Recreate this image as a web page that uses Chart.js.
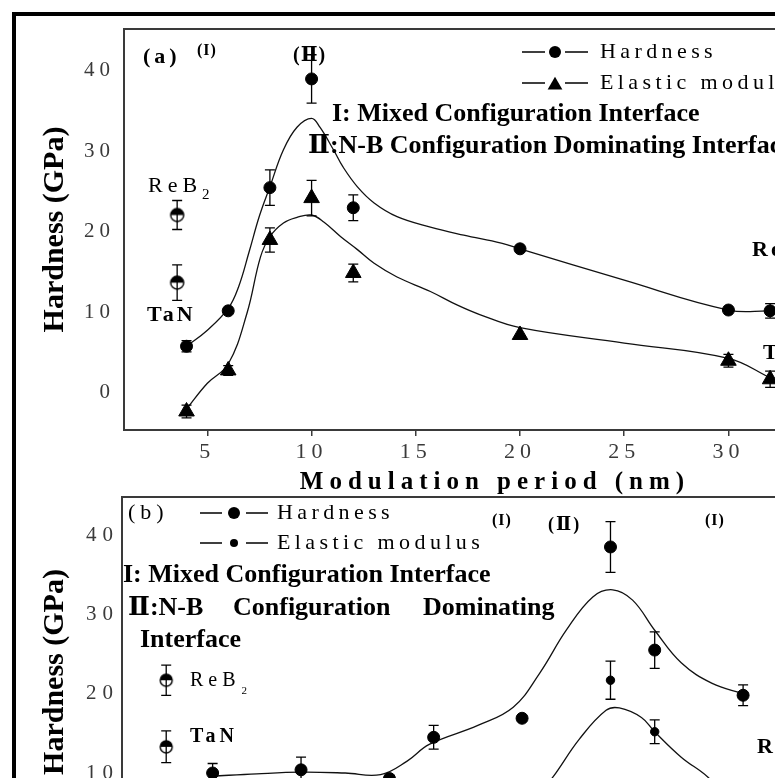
<!DOCTYPE html>
<html>
<head>
<meta charset="utf-8">
<script src="https://cdn.jsdelivr.net/npm/chart.js@4/dist/chart.umd.min.js"></script>
<style>
  html, body { margin: 0; padding: 0; background: #fff; overflow: hidden; }
  #sheet { position: relative; width: 775px; height: 778px; overflow: hidden; background: #fff; }
  #frame { position: absolute; left: 12px; top: 12px; width: 1000px; height: 1000px;
           border: 4px solid #000; box-sizing: border-box; }
  #panelA { position: absolute; left: 0; top: 0; }
  #panelB { position: absolute; left: 0; top: 480px; }
</style>
</head>
<body>
<div id="sheet">
  <div id="frame"></div>
  <canvas id="panelA" width="900" height="510"></canvas>
  <canvas id="panelB" width="900" height="420"></canvas>
</div>
<script>
// ---------- Panel (a): hardness and elastic modulus vs. modulation period ----------
const periodA      = [4, 6, 8, 10, 12, 20, 30, 32];
const hardnessA    = [5.8, 10.2, 25.5, 39.0, 23.0, 17.9, 10.3, 10.2];
const hardnessErrA = [0.7, 0, 2.2, 3.0, 1.6, 0, 0, 0.9];
const modulusA     = [-2.3, 2.8, 19.0, 24.2, 14.9, 7.2, 4.0, 1.7];
const modulusErrA  = [0.8, 0.6, 1.5, 2.2, 1.1, 0, 0.8, 1.0];

const fitHardPeriodA = [4, 5, 6, 6.5, 7, 7.5, 8, 8.65, 9.3, 10, 10.4, 11.05, 11.5, 12.2, 13, 14.1, 15.7, 17.3, 19.1, 20, 25, 30, 32];
const fitHardA       = [5.8, 7.8, 10.5, 13.2, 17.5, 22.0, 25.6, 30.2, 33.0, 34.1, 33.0, 30.2, 28.1, 25.6, 23.6, 21.9, 20.6, 19.6, 18.6, 17.9, 14.0, 10.3, 10.2];
const fitModPeriodA  = [4, 5, 6, 6.9, 7.55, 8, 8.65, 9.3, 10, 10.6, 11.4, 12.2, 13, 14.1, 15.7, 17, 18.1, 20, 25, 30, 32];
const fitModA        = [-2.0, 1.2, 3.6, 9.9, 16.9, 19.4, 21.1, 21.8, 22.1, 21.2, 19.4, 17.8, 16.1, 14.4, 12.6, 10.9, 9.7, 8.1, 6.2, 4.3, 1.9];

// single-layer references (ReB2, TaN)
const refPeriodA = [3.55, 3.55];
const refA       = [22.1, 13.7];
const refErrA    = [1.8, 2.2];

const xTicksA = [5, 10, 15, 20, 25, 30, 35];
const yTicksA = [0, 10, 20, 30, 40];

// ---------- Panel (b) ----------
const seriesB      = [2, 4, 6, 7, 9, 11, 12, 14];
const hardnessB    = [10.0, 10.4, 9.3, 14.5, 16.9, 38.5, 25.5, 19.8];
const hardnessErrB = [1.2, 1.6, 0, 1.5, 0, 3.2, 2.3, 1.3];
const modulusSeriesB = [11, 12];
const modulusB       = [21.7, 15.2];
const modulusErrB    = [2.4, 1.5];

const fitHardSeriesB = [2, 3, 4, 5, 5.8, 6.4, 6.9, 8, 8.8, 9.4, 10, 10.6, 11.05, 11.5, 12, 12.6, 13.3, 14];
const fitHardB       = [9.6, 9.9, 10.1, 10.0, 9.8, 11.5, 13.6, 16.0, 18.3, 22.6, 28.0, 32.2, 33.1, 31.8, 28.0, 23.9, 21.3, 20.0];
const fitModSeriesB  = [9.2, 9.7, 10.3, 10.9, 11.2, 11.7, 12.0, 12.6, 13.2, 13.7];
const fitModB        = [6.0, 9.5, 14.3, 17.9, 18.2, 17.0, 15.2, 12.0, 9.5, 6.5];

const refSeriesB = [0.95, 0.95];
const refB       = [21.7, 13.3];
const refErrB    = [1.9, 2.0];

const yTicksB = [10, 20, 30, 40];

// ---------- shared styling ----------
const SERIF = '"Liberation Serif", "Times New Roman", "DejaVu Serif", serif';
const INK = '#000';
const AXIS = '#3a3a3a';
const TICK = '#3a3a3a';

const pairs = (xs, ys) => xs.map((x, i) => ({ x, y: ys[i] }));

// circle with the upper half filled, used for the single-layer references
function halfDot(r) {
  const size = Math.ceil(2 * r + 4);
  const c = document.createElement('canvas');
  c.width = c.height = size;
  const g = c.getContext('2d');
  const m = size / 2;
  g.fillStyle = '#fff';
  g.beginPath(); g.arc(m, m, r, 0, Math.PI * 2); g.fill();
  g.fillStyle = INK;
  g.beginPath(); g.arc(m, m, r, Math.PI, Math.PI * 2); g.closePath(); g.fill();
  g.strokeStyle = INK; g.lineWidth = 1.4;
  g.beginPath(); g.arc(m, m, r, 0, Math.PI * 2); g.stroke();
  return c;
}

function drawText(ctx, t) {
  ctx.save();
  const weight = t.bold ? 'bold ' : '';
  ctx.font = weight + t.size + 'px ' + SERIF;
  ctx.letterSpacing = (t.spacing || 0) + 'px';
  ctx.fillStyle = INK;
  ctx.textBaseline = 'middle';
  ctx.textAlign = 'left';
  ctx.fillText(t.text, t.x, t.y);
  if (t.sub) {
    const w = ctx.measureText(t.text).width;
    ctx.font = weight + t.subSize + 'px ' + SERIF;
    ctx.fillText(t.sub, t.x + w + (t.subGap || 0), t.y + t.subDrop);
  }
  ctx.restore();
}

function drawMarker(ctx, style, r, x, y) {
  ctx.beginPath();
  if (style === 'triangle') {
    for (let k = 0; k < 3; k++) {
      const a = k * 2 * Math.PI / 3;
      const px = x + Math.sin(a) * r, py = y - Math.cos(a) * r;
      k ? ctx.lineTo(px, py) : ctx.moveTo(px, py);
    }
    ctx.closePath();
  } else {
    ctx.arc(x, y, r, 0, Math.PI * 2);
  }
  ctx.fill();
}

function drawKey(ctx, k) {
  ctx.save();
  ctx.strokeStyle = INK; ctx.fillStyle = INK; ctx.lineWidth = 1.5;
  ctx.beginPath();
  ctx.moveTo(k.dash[0], k.y); ctx.lineTo(k.dash[1], k.y);
  ctx.moveTo(k.dash[2], k.y); ctx.lineTo(k.dash[3], k.y);
  ctx.stroke();
  drawMarker(ctx, k.style, k.r, k.mx, k.y + (k.style === 'triangle' ? k.r / 4 : 0));
  ctx.restore();
  drawText(ctx, { text: k.label, x: k.tx, y: k.y, size: k.size, spacing: k.spacing });
}

const notesPlugin = (items, keys) => ({
  id: 'notes',
  afterDraw(chart) {
    const ctx = chart.ctx;
    keys.forEach(k => drawKey(ctx, k));
    items.forEach(t => drawText(ctx, t));
  }
});

// vertical error bars with caps, taken from each dataset's "errors" list
const errorBars = {
  id: 'errorBars',
  afterDatasetsDraw(chart) {
    const { ctx, chartArea: a } = chart;
    const ys = chart.scales.y;
    ctx.save();
    ctx.beginPath(); ctx.rect(a.left, a.top, a.right - a.left, a.bottom - a.top); ctx.clip();
    ctx.strokeStyle = INK; ctx.lineWidth = 1.3;
    chart.data.datasets.forEach((ds, i) => {
      if (!ds.errors) return;
      const meta = chart.getDatasetMeta(i);
      meta.data.forEach((pt, j) => {
        const e = ds.errors[j];
        if (!e) return;
        const v = ds.data[j].y;
        const y1 = ys.getPixelForValue(v + e), y2 = ys.getPixelForValue(v - e);
        const x = pt.x, c = ds.capHalf || 5;
        ctx.beginPath();
        ctx.moveTo(x, y1); ctx.lineTo(x, y2);
        ctx.moveTo(x - c, y1); ctx.lineTo(x + c, y1);
        ctx.moveTo(x - c, y2); ctx.lineTo(x + c, y2);
        ctx.stroke();
      });
    });
    ctx.restore();
  }
};

// top edge of the plotting frame
const frameTop = {
  id: 'frameTop',
  afterDraw(chart) {
    const { ctx, chartArea: a } = chart;
    ctx.save();
    ctx.strokeStyle = AXIS; ctx.lineWidth = 2;
    ctx.beginPath(); ctx.moveTo(a.left - 1, a.top); ctx.lineTo(a.right, a.top); ctx.stroke();
    ctx.restore();
  }
};

// letter-spaced tick labels / titles per axis
const spacingPlugin = spec => ({
  id: 'axisSpacing',
  afterLayout(chart) {
    Object.keys(spec).forEach(id => {
      const scale = chart.scales[id];
      if (!scale || scale.$spaced) return;
      scale.$spaced = true;
      [['drawLabels', spec[id].labels], ['drawTitle', spec[id].title]].forEach(([fn, px]) => {
        if (!px) return;
        const orig = scale[fn];
        scale[fn] = function (...args) {
          const c = this.ctx, prev = c.letterSpacing;
          c.letterSpacing = px + 'px';
          try { orig.apply(this, args); } finally { c.letterSpacing = prev; }
        };
      });
    });
  }
});

const lineSet = (label, data) => ({
  label, data, showLine: true, pointRadius: 0, borderColor: '#111', borderWidth: 1.3,
  tension: 0.4, fill: false
});
const markSet = (label, data, errors, style, r) => ({
  label, data, errors, showLine: false, pointStyle: style, pointRadius: r,
  backgroundColor: INK, borderColor: INK, borderWidth: 1
});

const baseOptions = {
  responsive: false, animation: false, devicePixelRatio: 1, events: [],
  plugins: { legend: { display: false }, tooltip: { enabled: false } }
};

// ---------- chart (a) ----------
const notesA = [
  { text: '(a)', x: 143, y: 57, size: 22, bold: true, spacing: 4 },
  { text: '(I)', x: 197, y: 51, size: 16, bold: true, spacing: 1 },
  { text: '(Ⅱ)', x: 293, y: 56, size: 20, bold: true, spacing: 1 },
  { text: 'I: Mixed Configuration Interface', x: 332, y: 114, size: 26, bold: true },
  { text: 'Ⅱ:N-B Configuration Dominating Interface', x: 308, y: 146, size: 26, bold: true },
  { text: 'ReB', sub: '2', subSize: 15, subDrop: 9, subGap: 0, x: 148, y: 186, size: 22, spacing: 5 },
  { text: 'TaN', x: 147, y: 315, size: 22, bold: true, spacing: 3 },
  { text: 'ReB', sub: '2', subSize: 15, subDrop: 9, x: 752, y: 250, size: 22, bold: true, spacing: 3 },
  { text: 'TaN', x: 763, y: 353, size: 22, bold: true, spacing: 3 }
];
const keysA = [
  { label: 'Hardness', y: 52, dash: [522, 545, 565, 588], mx: 555, style: 'circle', r: 6, tx: 600, size: 22, spacing: 4.4 },
  { label: 'Elastic modulus', y: 83, dash: [522, 545, 565, 588], mx: 555, style: 'triangle', r: 8.5, tx: 600, size: 22, spacing: 4.4 }
];

new Chart(document.getElementById('panelA'), {
  type: 'scatter',
  data: {
    datasets: [
      markSet('Hardness', pairs(periodA, hardnessA), hardnessErrA, 'circle', 6),
      markSet('Elastic modulus', pairs(periodA, modulusA), modulusErrA, 'triangle', 9),
      markSet('ReB2 / TaN', pairs(refPeriodA, refA), refErrA, halfDot(6.5), 6.5),
      lineSet('Hardness fit', pairs(fitHardPeriodA, fitHardA)),
      lineSet('Elastic modulus fit', pairs(fitModPeriodA, fitModA))
    ]
  },
  options: {
    ...baseOptions,
    layout: { padding: { top: 29, left: 0, right: 34, bottom: 0 } },
    scales: {
      x: {
        type: 'linear', min: 1, max: 36.6,
        afterBuildTicks: s => { s.ticks = xTicksA.map(v => ({ value: v })); },
        afterFit: s => { s.height = 80; },
        grid: { display: true, drawOnChartArea: false, drawTicks: true, tickLength: 6, color: AXIS, lineWidth: 1.5 },
        border: { display: true, color: AXIS, width: 2 },
        ticks: { color: TICK, font: { family: SERIF, size: 22 }, padding: 3, maxRotation: 0, autoSkip: false },
        title: { display: true, text: 'Modulation period (nm)', color: INK,
                 font: { family: SERIF, size: 25, weight: 'bold' }, padding: { top: 0, bottom: 12 } }
      },
      y: {
        type: 'linear', min: -4.6, max: 45.2,
        afterBuildTicks: s => { s.ticks = yTicksA.map(v => ({ value: v })); },
        afterFit: s => { s.width = 124; },
        grid: { display: false, drawTicks: false },
        border: { display: true, color: AXIS, width: 2 },
        ticks: { color: TICK, font: { family: SERIF, size: 21 }, padding: 9 },
        title: { display: true, text: 'Hardness (GPa)', color: INK,
                 font: { family: SERIF, size: 30, weight: 'bold' }, padding: { top: 37, bottom: 0 } }
      }
    }
  },
  plugins: [spacingPlugin({ x: { labels: 5, title: 6 }, y: { labels: 5 } }), errorBars, frameTop, notesPlugin(notesA, keysA)]
});

// ---------- chart (b) ----------
const notesB = [
  { text: '(b)', x: 128, y: 33, size: 22, spacing: 5 },
  { text: 'I: Mixed Configuration Interface', x: 123, y: 95, size: 26, bold: true },
  { text: 'Ⅱ:N-B', x: 128, y: 128, size: 26, bold: true },
  { text: 'Configuration', x: 233, y: 128, size: 26, bold: true },
  { text: 'Dominating', x: 423, y: 128, size: 26, bold: true },
  { text: 'Interface', x: 140, y: 160, size: 26, bold: true },
  { text: 'ReB', sub: '2', subSize: 11, subDrop: 10, subGap: 1, x: 190, y: 201, size: 20, spacing: 5 },
  { text: 'TaN', x: 190, y: 257, size: 20, bold: true, spacing: 4 },
  { text: '(I)', x: 492, y: 41, size: 16, bold: true, spacing: 1 },
  { text: '(Ⅱ)', x: 548, y: 45, size: 18, bold: true, spacing: 2 },
  { text: '(I)', x: 705, y: 41, size: 16, bold: true, spacing: 1 },
  { text: 'ReB', sub: '2', subSize: 15, subDrop: 9, x: 757, y: 267, size: 22, bold: true, spacing: 3 }
];
const keysB = [
  { label: 'Hardness', y: 33, dash: [200, 222, 246, 268], mx: 234, style: 'circle', r: 6, tx: 277, size: 22, spacing: 4.4 },
  { label: 'Elastic modulus', y: 63, dash: [200, 222, 246, 268], mx: 234, style: 'circle', r: 4, tx: 277, size: 22, spacing: 4.4 }
];

new Chart(document.getElementById('panelB'), {
  type: 'scatter',
  data: {
    datasets: [
      markSet('Hardness', pairs(seriesB, hardnessB), hardnessErrB, 'circle', 6),
      markSet('Elastic modulus', pairs(modulusSeriesB, modulusB), modulusErrB, 'circle', 4.2),
      markSet('ReB2 / TaN', pairs(refSeriesB, refB), refErrB, halfDot(6), 6),
      lineSet('Hardness fit', pairs(fitHardSeriesB, fitHardB)),
      lineSet('Elastic modulus fit', pairs(fitModSeriesB, fitModB))
    ]
  },
  options: {
    ...baseOptions,
    layout: { padding: { top: 17, left: 0, right: 34, bottom: 53 } },
    scales: {
      x: { type: 'linear', min: -0.05, max: 16.78, display: false },
      y: {
        type: 'linear', min: 0.67, max: 44.8,
        afterBuildTicks: s => { s.ticks = yTicksB.map(v => ({ value: v })); },
        afterFit: s => { s.width = 122; },
        grid: { display: false, drawTicks: false },
        border: { display: true, color: AXIS, width: 2 },
        ticks: { color: TICK, font: { family: SERIF, size: 21 }, padding: 3 },
        title: { display: true, text: 'Hardness (GPa)', color: INK,
                 font: { family: SERIF, size: 30, weight: 'bold' }, padding: { top: 37, bottom: 0 } }
      }
    }
  },
  plugins: [spacingPlugin({ y: { labels: 6 } }), errorBars, frameTop, notesPlugin(notesB, keysB)]
});
</script>
</body>
</html>
